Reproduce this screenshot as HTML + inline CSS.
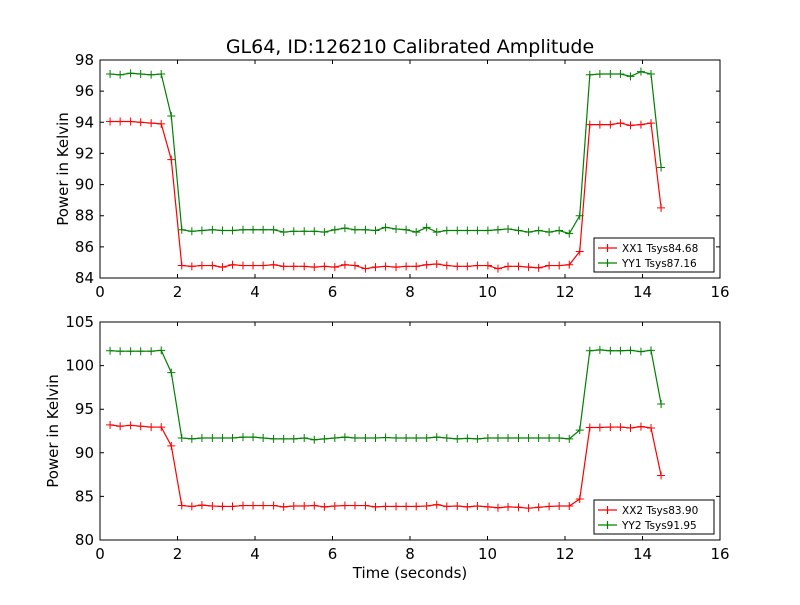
<!DOCTYPE html>
<html><head><meta charset="utf-8"><style>
body{margin:0;background:#fff}
svg text{font-family:"DejaVu Sans","Liberation Sans",sans-serif}
</style></head><body>
<svg id="chart" width="800" height="600" xmlns="http://www.w3.org/2000/svg">
<rect width="800" height="600" fill="#fff"/>
<text x="410" y="53" font-size="19" text-anchor="middle">GL64, ID:126210 Calibrated Amplitude</text>
<text x="410" y="578" font-size="15" text-anchor="middle">Time (seconds)</text>
<text transform="translate(68,169) rotate(-90)" font-size="15" text-anchor="middle">Power in Kelvin</text>
<text transform="translate(58,431) rotate(-90)" font-size="15" text-anchor="middle">Power in Kelvin</text>
</svg>
<script>
const times=[0.26,0.52,0.79,1.05,1.32,1.58,1.84,2.11,2.37,2.63,2.90,3.16,3.42,3.69,3.95,4.21,4.48,4.74,5.00,5.27,5.53,5.79,6.06,6.32,6.58,6.85,7.11,7.37,7.64,7.90,8.16,8.43,8.69,8.95,9.22,9.48,9.74,10.01,10.27,10.53,10.80,11.06,11.32,11.59,11.85,12.11,12.38,12.64,12.90,13.17,13.43,13.69,13.96,14.22,14.48];
const xx1=[94.05,94.05,94.05,94.0,93.95,93.9,91.6,84.8,84.75,84.8,84.8,84.7,84.85,84.8,84.8,84.8,84.85,84.75,84.75,84.75,84.7,84.75,84.7,84.85,84.8,84.6,84.7,84.75,84.7,84.75,84.75,84.85,84.9,84.8,84.75,84.75,84.8,84.8,84.6,84.75,84.75,84.7,84.65,84.8,84.8,84.85,85.7,93.85,93.85,93.85,93.95,93.8,93.85,93.95,88.5];
const yy1=[97.1,97.05,97.15,97.1,97.05,97.1,94.4,87.1,87.0,87.05,87.1,87.05,87.05,87.1,87.1,87.1,87.1,86.95,87.0,87.0,87.0,86.95,87.1,87.2,87.1,87.1,87.05,87.25,87.15,87.1,86.95,87.25,86.95,87.05,87.05,87.05,87.05,87.05,87.1,87.15,87.05,86.95,87.05,86.95,87.05,86.85,88.0,97.05,97.1,97.1,97.1,96.95,97.25,97.1,91.1];
const xx2=[93.2,93.05,93.15,93.05,92.95,92.95,90.8,83.95,83.85,84.0,83.9,83.85,83.85,83.95,83.95,83.95,83.95,83.8,83.9,83.9,83.95,83.8,83.9,83.95,83.95,83.95,83.8,83.85,83.85,83.85,83.85,83.9,84.05,83.85,83.9,83.8,83.9,83.8,83.7,83.8,83.75,83.65,83.75,83.85,83.9,83.9,84.7,92.9,92.9,92.95,92.95,92.85,93.0,92.85,87.4];
const yy2=[101.7,101.65,101.65,101.65,101.65,101.75,99.2,91.7,91.6,91.7,91.7,91.7,91.7,91.8,91.8,91.7,91.6,91.6,91.6,91.7,91.5,91.6,91.7,91.8,91.7,91.7,91.7,91.75,91.7,91.7,91.7,91.7,91.8,91.7,91.6,91.65,91.6,91.7,91.7,91.7,91.7,91.7,91.7,91.7,91.7,91.6,92.6,101.7,101.8,101.7,101.7,101.75,101.6,101.75,95.6];
const xTicks=[0,2,4,6,8,10,12,14,16];
const yTicksTop=[84,86,88,90,92,94,96,98];
const yTicksBottom=[80,85,90,95,100,105];
const legendTop=["XX1 Tsys84.68","YY1 Tsys87.16"];
const legendBottom=["XX2 Tsys83.90","YY2 Tsys91.95"];

const NS="http://www.w3.org/2000/svg";
const svg=document.getElementById('chart');
function mk(tag,attrs,parent){const e=document.createElementNS(NS,tag);for(const k in attrs)e.setAttribute(k,attrs[k]);(parent||svg).appendChild(e);return e;}

function panel(prefix,top,bottom,ymin,ymax,yTicks,series,legend,legY){
  const L=100,R=720;
  const g=mk('g',{});
  
  
  const sx=v=>L+(v-0)/(16-0)*(R-L);
  const sy=v=>bottom-(v-ymin)/(ymax-ymin)*(bottom-top);
  series.forEach(s=>{
    const pts=s.vals.map((v,i)=>sx(times[i]).toFixed(2)+','+sy(v).toFixed(2)).join(' ');
    const line=mk('polyline',{points:pts,fill:'none',stroke:s.color,'stroke-width':1.2},g);
    
    
    s.vals.forEach((v,i)=>{
      const x=sx(times[i]),y=sy(v);
      const m=mk('path',{d:`M${x-4},${y}H${x+4}M${x},${y-4}V${y+4}`,stroke:s.color,'stroke-width':1},g);
      
      
    });
  });
  const frame=mk('rect',{x:L,y:top,width:R-L,height:bottom-top,fill:'none',stroke:'#000','stroke-width':1},g);
  
  
  xTicks.forEach(t=>{
    const x=sx(t);
    mk('path',{d:`M${x},${bottom}v-4M${x},${top}v4`,stroke:'#000'},g);
    const tx=mk('text',{x:x,y:bottom+19,'font-size':15,'text-anchor':'middle'},g);
    
    
    tx.textContent=t;
  });
  yTicks.forEach(t=>{
    const y=sy(t);
    mk('path',{d:`M${L},${y}h4M${R},${y}h-4`,stroke:'#000'},g);
    const tx=mk('text',{x:L-6,y:y+5,'font-size':15,'text-anchor':'end'},g);
    
    
    tx.textContent=t;
  });
  const lg=mk('g',{},g);
  
  
  mk('rect',{x:594,y:legY,width:120,height:34,fill:'#fff',stroke:'#000'},lg);
  legend.forEach((lab,i)=>{
    const y=legY+10+i*15,c=series[i].color;
    const e=mk('g',{},lg);
    
    
    mk('path',{d:`M598,${y}H617M607.5,${y-4}V${y+4}`,stroke:c,'stroke-width':1.2},e);
    const t=mk('text',{x:622,y:y+4,'font-size':10.5},e);
    t.textContent=lab;
  });
}
panel('top',60,278,84,98,yTicksTop,[{name:'xx1',vals:xx1,color:'#ff0000'},{name:'yy1',vals:yy1,color:'#008000'}],legendTop,238);
panel('bottom',322,540,80,105,yTicksBottom,[{name:'xx2',vals:xx2,color:'#ff0000'},{name:'yy2',vals:yy2,color:'#008000'}],legendBottom,500);
</script>
</body></html>
